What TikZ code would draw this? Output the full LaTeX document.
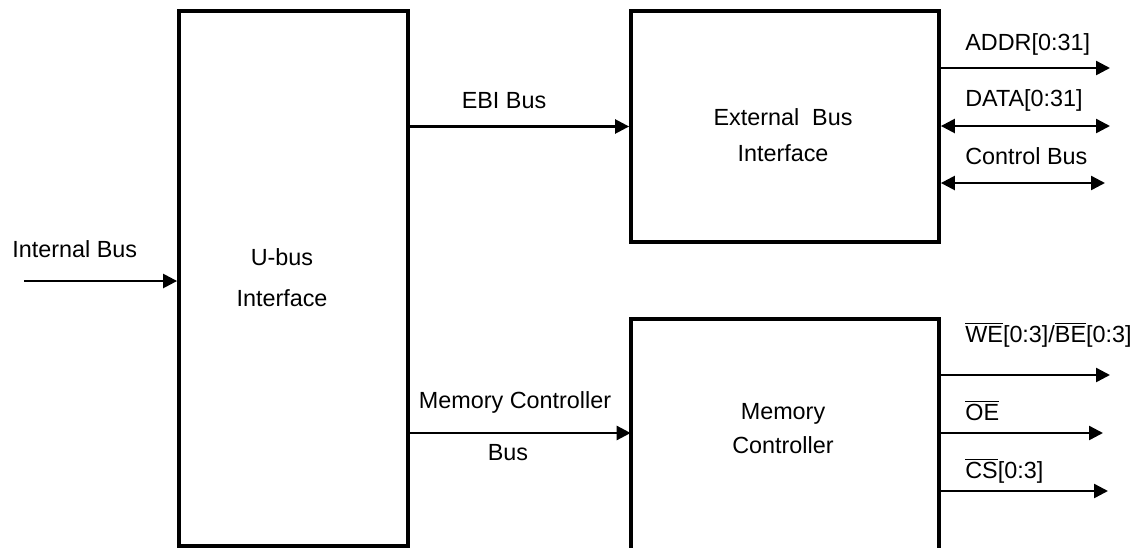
\documentclass[tikz,border=0pt]{standalone}
\usepackage{fontspec}
\setmainfont{Liberation Sans}
\usetikzlibrary{arrows.meta,positioning}
\newcommand{\ovl}[1]{$\overline{\mbox{#1}}$}
\tikzset{
  block/.style={rectangle, draw=black, line width=2.2pt, inner sep=0pt},
  boxline/.style={line width=2.2pt},
  blocktext/.style={align=center, inner sep=0pt, font=\fontsize{13.3}{20}\selectfont},
  sig/.style={inner sep=0pt, font=\fontsize{13.3}{16}\selectfont},
  arrow/.style={-{Triangle[length=0.28cm, width=0.28cm]}, line width=1.4pt},
  biarrow/.style={{Triangle[length=0.28cm, width=0.28cm]}-{Triangle[length=0.28cm, width=0.28cm]},
                  line width=1.4pt}
}

\begin{document}
\begin{tikzpicture}[x=0.02cm, y=-0.02cm]
\path[use as bounding box, clip] (0,0) rectangle (1137,548);

% blocks
\node[block, minimum width=4.58cm, minimum height=10.7cm] (ubus) at (293.5,278.5) {};
\node[block, minimum width=6.16cm, minimum height=4.62cm] (ebi) at (785,126.5) {};
\node[rectangle, inner sep=0pt, minimum width=6.16cm, minimum height=4.9cm] (memctl) at (785,441.5) {};
\draw[boxline] (memctl.south west) |- (memctl.north) -| (memctl.south east);

\node[blocktext, font=\fontsize{13.3}{23.2}\selectfont] (ubustxt) at (282,277.5) {U-bus\\Interface};
\node[blocktext, font=\fontsize{13.3}{20.4}\selectfont] (ebitxt) at (783,135) {External\ \ Bus\\Interface};
\node[blocktext, font=\fontsize{13.3}{19.3}\selectfont] (memtxt) at (783,429) {Memory\\Controller};

% internal side
\coordinate (intin) at (24,281);
\node[sig, anchor=base west] (intlbl) at (12,257) {Internal Bus};
\draw[arrow] (intin) -- (intin -| ubus.west);

\node[sig, anchor=base] (ebilbl) at (504,108) {EBI Bus};
\draw[arrow] (ubus.east |- ebi) -- (ebi.west);

\coordinate (mcbus) at (408,433);
\node[sig, anchor=base] (mclbl) at (515,408) {Memory Controller};
\node[sig, anchor=base] (mcbuslbl) at (508,460) {Bus};
\draw[arrow] (mcbus -| ubus.east) -- (mcbus -| memctl.west);

% external signals
\coordinate (addrend) at (1110,68);
\coordinate (dataend) at (1110,126);
\coordinate (ctrlend) at (1105,183);
\node[sig, anchor=base west] (addrlbl) at (965,50) {ADDR[0:31]};
\node[sig, anchor=base west] (datalbl) at (965,106) {DATA[0:31]};
\node[sig, anchor=base west] (ctrllbl) at (965,164) {Control Bus};
\draw[arrow] (addrend -| ebi.east) -- (addrend);
\draw[biarrow] (dataend -| ebi.east) -- (dataend);
\draw[biarrow] (ctrlend -| ebi.east) -- (ctrlend);

\coordinate (weend) at (1110,375);
\coordinate (oeend) at (1103,433);
\coordinate (csend) at (1108,491);
\node[sig, anchor=base west] (welbl) at (965,342) {\ovl{WE}[0:3]/\ovl{BE}[0:3]};
\node[sig, anchor=base west] (oelbl) at (965,420) {\ovl{OE}};
\node[sig, anchor=base west] (cslbl) at (965,478) {\ovl{CS}[0:3]};
\draw[arrow] (weend -| memctl.east) -- (weend);
\draw[arrow] (oeend -| memctl.east) -- (oeend);
\draw[arrow] (csend -| memctl.east) -- (csend);
\end{tikzpicture}
\end{document}
